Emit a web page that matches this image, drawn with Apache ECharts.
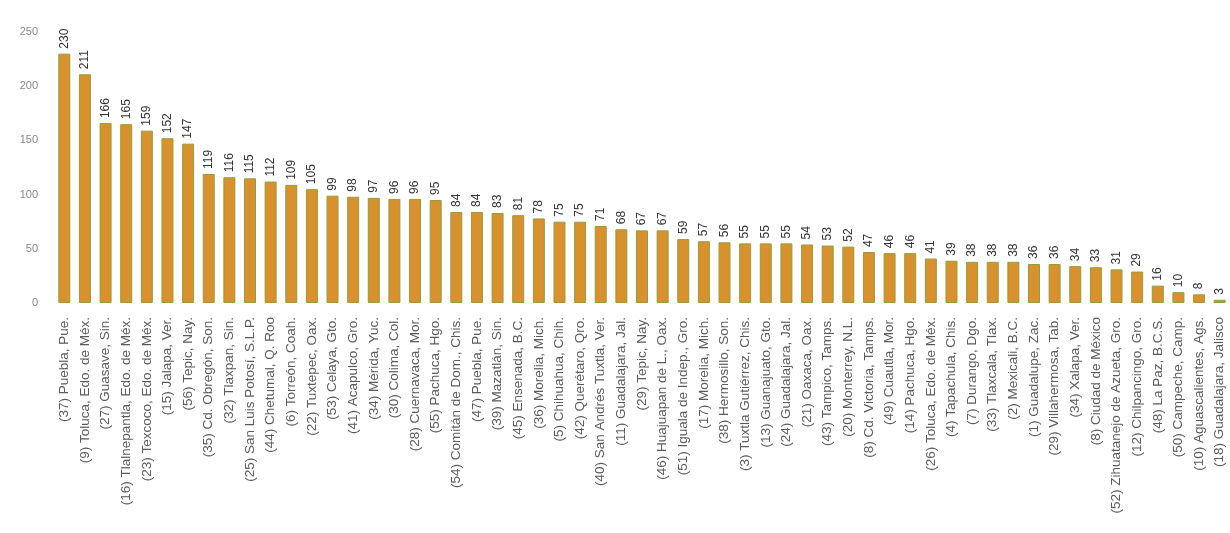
<!DOCTYPE html>
<html><head><meta charset="utf-8">
<script src="https://cdn.jsdelivr.net/npm/echarts@6/dist/echarts.min.js"></script>
<style>html,body{margin:0;padding:0;background:#fff}#c{width:1230px;height:533px}</style>
</head><body><div id="c"></div>
<script>
const categories = [
"(37) Puebla, Pue.","(9) Toluca, Edo. de Méx.","(27) Guasave, Sin.","(16) Tlalnepantla, Edo. de Méx.","(23) Texcoco, Edo. de Méx.",
"(15) Jalapa, Ver.","(56) Tepic, Nay.","(35) Cd. Obregón, Son.","(32) Tlaxpan, Sin.","(25) San Luis Potosí, S.L.P.",
"(44) Chetumal, Q. Roo","(6) Torreón, Coah.","(22) Tuxtepec, Oax.","(53) Celaya, Gto.","(41) Acapulco, Gro.",
"(34) Mérida, Yuc.","(30) Colima, Col.","(28) Cuernavaca, Mor.","(55) Pachuca, Hgo.","(54) Comitán de Dom., Chis.",
"(47) Puebla, Pue.","(39) Mazatlán, Sin.","(45) Ensenada, B.C.","(36) Morelia, Mich.","(5) Chihuahua, Chih.",
"(42) Querétaro, Qro.","(40) San Andrés Tuxtla, Ver.","(11) Guadalajara, Jal.","(29) Tepic, Nay.","(46) Huajuapan de L., Oax.",
"(51) Iguala de Indep., Gro.","(17) Morelia, Mich.","(38) Hermosillo, Son.","(3) Tuxtla Gutiérrez, Chis.","(13) Guanajuato, Gto.",
"(24) Guadalajara, Jal.","(21) Oaxaca, Oax.","(43) Tampico, Tamps.","(20) Monterrey, N.L.","(8) Cd. Victoria, Tamps.",
"(49) Cuautla, Mor.","(14) Pachuca, Hgo.","(26) Toluca, Edo. de Méx.","(4) Tapachula, Chis.","(7) Durango, Dgo.",
"(33) Tlaxcala, Tlax.","(2) Mexicali, B.C.","(1) Guadalupe, Zac.","(29) Villahermosa, Tab.","(34) Xalapa, Ver.",
"(8) Ciudad de México","(52) Zihuatanejo de Azueta, Gro.","(12) Chilpancingo, Gro.","(48) La Paz, B.C.S.","(50) Campeche, Camp.",
"(10) Aguascalientes, Ags.","(18) Guadalajara, Jalisco"
];
const values = [230,211,166,165,159,152,147,119,116,115,112,109,105,99,98,97,96,96,95,84,84,83,81,78,75,75,71,68,67,67,59,57,56,55,55,55,54,53,52,47,46,46,41,39,38,38,38,36,36,34,33,31,29,16,10,8,3];
const yTicks = [0,50,100,150,200,250];

const chart = echarts.init(document.getElementById('c'));
chart.setOption({
  animation:false,
  grid:{left:54,top:32,width:1179,height:271,containLabel:false},
  xAxis:{type:'category',data:categories,
    axisLine:{show:false},axisTick:{show:false},
    axisLabel:{rotate:90,interval:0,fontSize:13.5,color:'#5a5a5a',margin:14,fontFamily:'Liberation Sans'}},
  yAxis:{type:'value',min:yTicks[0],max:yTicks[yTicks.length-1],interval:50,
    axisLine:{show:false},axisTick:{show:false},splitLine:{show:false},
    axisLabel:{fontSize:11,color:'#888',margin:16,fontFamily:'Liberation Sans'}},
  series:[{type:'bar',data:values,barWidth:12,
    itemStyle:{color:'#d8912c',borderColor:'#8fa03a',borderWidth:1},
    label:{show:true,position:'top',rotate:90,align:'left',verticalAlign:'middle',distance:5,
      fontSize:12,color:'#333',fontFamily:'Liberation Sans'}}]
});
</script></body></html>
